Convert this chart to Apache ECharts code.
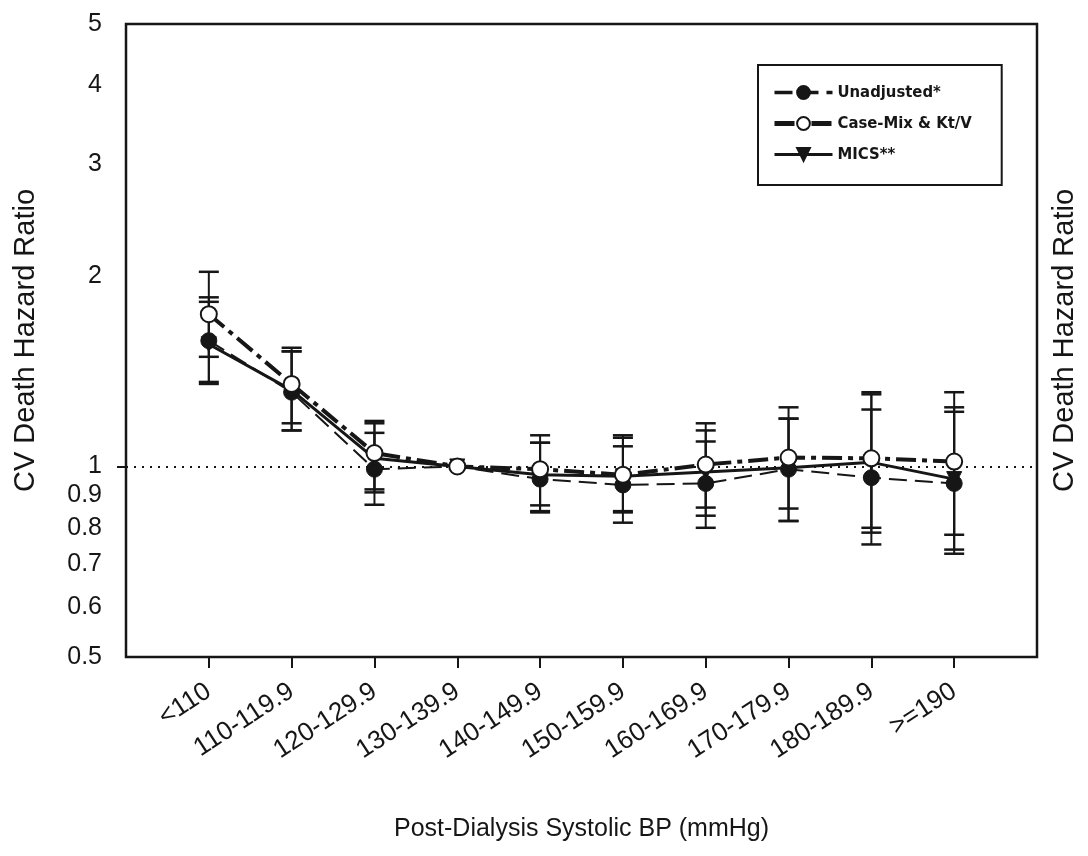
<!DOCTYPE html>
<html>
<head>
<meta charset="utf-8">
<script src="https://cdn.jsdelivr.net/npm/echarts@6/dist/echarts.min.js"></script>
<style>html,body{margin:0;padding:0;background:#fff}#c{width:1088px;height:856px}</style>
</head>
<body>
<div id="c"></div>
<script>
const categories = ['<110','110-119.9','120-129.9','130-139.9','140-149.9','150-159.9','160-169.9','170-179.9','180-189.9','>=190'];
const yTickLabels = [0.5,0.6,0.7,0.8,0.9,1,2,3,4,5];

const unadjusted = [1.58, 1.31, 0.99, 1.0, 0.955, 0.935, 0.94, 0.99, 0.96, 0.94];
const unadjLow   = [1.36, 1.14, 0.87, null, 0.85, 0.815, 0.80, 0.82, 0.753, 0.728];
const unadjHigh  = [1.85, 1.52, 1.13, null, 1.09, 1.076, 1.095, 1.19, 1.23, 1.22];

const caseMix    = [1.74, 1.35, 1.05, 1.0, 0.99, 0.97, 1.007, 1.033, 1.03, 1.018];
const caseLow    = [1.49, 1.17, 0.92, null, 0.868, 0.85, 0.861, 0.858, 0.80, 0.78];
const caseHigh   = [2.03, 1.54, 1.18, null, 1.12, 1.12, 1.17, 1.24, 1.31, 1.31];

const mics       = [1.56, 1.32, 1.03, 1.0, 0.97, 0.965, 0.98, 0.995, 1.015, 0.955];
const micsLow    = [1.35, 1.14, 0.91, null, 0.846, 0.846, 0.836, 0.82, 0.786, 0.739];
const micsHigh   = [1.82, 1.52, 1.17, null, 1.09, 1.11, 1.14, 1.19, 1.30, 1.24];

const INK = '#161616';
const pts = arr => arr.map((v, i) => [i + 1, v]);
const bars = (lo, hi) => lo.map((v, i) => v == null ? null : [i + 1, v, hi[i]]).filter(d => d);

function errRender(params, api) {
  const x = api.value(0);
  const p1 = api.coord([x, api.value(1)]);
  const p2 = api.coord([x, api.value(2)]);
  const hw = 10;
  const st = { stroke: INK, lineWidth: 2 };
  const cap = { stroke: INK, lineWidth: 2.5 };
  return { type: 'group', children: [
    { type: 'line', shape: { x1: p1[0], y1: p1[1], x2: p2[0], y2: p2[1] }, style: st },
    { type: 'line', shape: { x1: p1[0] - hw, y1: p1[1], x2: p1[0] + hw, y2: p1[1] }, style: cap },
    { type: 'line', shape: { x1: p2[0] - hw, y1: p2[1], x2: p2[0] + hw, y2: p2[1] }, style: cap }
  ]};
}
const errSeries = (lo, hi) => ({
  type: 'custom', renderItem: errRender, data: bars(lo, hi),
  encode: { x: 0, y: [1, 2] }, z: 1, silent: true
});

const chart = echarts.init(document.getElementById('c'), null, { renderer: 'canvas' });
chart.setOption({
  backgroundColor: '#fff',
  animation: false,
  textStyle: { fontFamily: 'Liberation Sans, Arial, sans-serif' },
  grid: { left: 126, right: 51, top: 24, bottom: 199, show: true, borderColor: INK, borderWidth: 2.5, backgroundColor: 'transparent' },
  legend: {
    orient: 'vertical', left: 758, top: 65,
    data: [
      { name: 'Unadjusted*', lineStyle: { width: 3.5 } },
      { name: 'Case-Mix & Kt/V', lineStyle: { width: 5 } },
      { name: 'MICS**', lineStyle: { width: 3 } }
    ],
    itemWidth: 58, itemHeight: 16, itemGap: 14,
    borderColor: INK, borderWidth: 2, borderRadius: 0,
    padding: [19, 30, 22, 14],
    textStyle: { fontFamily: "'DejaVu Sans Condensed', 'DejaVu Sans', sans-serif", fontSize: 16.5, fontWeight: 'bold', color: INK }
  },
  xAxis: {
    type: 'value', min: 0, max: 11,
    axisLine: { show: false },
    splitLine: { show: false },
    axisTick: { show: true, customValues: [1,2,3,4,5,6,7,8,9,10], length: 11, lineStyle: { color: INK, width: 2 } },
    axisLabel: { customValues: [1,2,3,4,5,6,7,8,9,10], formatter: v => categories[Math.round(v) - 1] || '',
      rotate: 33, margin: 32, fontSize: 26, color: INK },
    name: 'Post-Dialysis Systolic BP (mmHg)', nameLocation: 'middle', nameGap: 160,
    nameTextStyle: { fontSize: 25, color: INK }
  },
  yAxis: [{
    type: 'log', logBase: 10, min: 0.5, max: 5,
    axisLine: { show: false },
    splitLine: { show: false },
    axisTick: { show: true, customValues: [1], length: 9, lineStyle: { color: INK, width: 2 } },
    axisLabel: { customValues: yTickLabels, formatter: v => String(Math.round(v * 10) / 10), margin: 24, fontSize: 25, color: INK },
    name: 'CV Death Hazard Ratio', nameLocation: 'middle', nameRotate: 90, nameGap: 86,
    nameTextStyle: { fontSize: 29, color: INK }
  }, {
    type: 'value', position: 'right', min: 0, max: 1,
    axisLine: { show: false }, axisTick: { show: false }, axisLabel: { show: false }, splitLine: { show: false },
    name: 'CV Death Hazard Ratio', nameLocation: 'middle', nameRotate: 90, nameGap: 13,
    nameTextStyle: { fontSize: 29, color: INK }
  }],
  series: [
    errSeries(unadjLow, unadjHigh),
    errSeries(caseLow, caseHigh),
    errSeries(micsLow, micsHigh),
    {
      name: 'MICS**', type: 'line', data: pts(mics), z: 3,
      symbol: 'triangle', symbolRotate: 180, symbolSize: 15,
      lineStyle: { color: INK, width: 3, type: 'solid' },
      itemStyle: { color: INK, borderColor: INK, borderWidth: 1 },
      markLine: { silent: true, symbol: 'none', label: { show: false },
        lineStyle: { color: INK, width: 2, type: [2, 6] }, data: [{ yAxis: 1 }] }
    },
    {
      name: 'Unadjusted*', type: 'line', data: pts(unadjusted), z: 4,
      symbol: 'circle', symbolSize: 16,
      lineStyle: { color: INK, width: 2, type: [18, 8] },
      itemStyle: { color: INK, borderColor: INK, borderWidth: 1 }
    },
    {
      name: 'Case-Mix & Kt/V', type: 'line', data: pts(caseMix), z: 5,
      symbol: 'circle', symbolSize: 16,
      lineStyle: { color: INK, width: 4, type: [20, 6, 5, 6] },
      itemStyle: { color: '#fff', borderColor: INK, borderWidth: 2 }
    }
  ]
});
</script>
</body>
</html>
